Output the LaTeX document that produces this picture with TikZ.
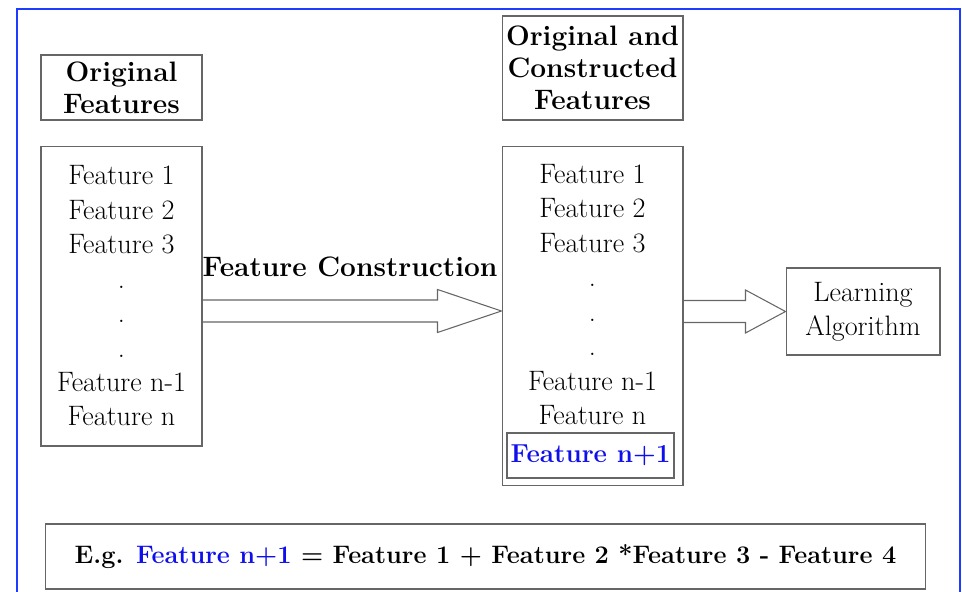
\documentclass[tikz,border=0pt]{standalone}
\usetikzlibrary{calc,positioning}

\definecolor{frameblue}{RGB}{30,60,255}
\definecolor{newblue}{RGB}{15,15,235}

\tikzset{
  box/.style={draw=black!60, line width=0.6pt, align=center, inner sep=0pt},
  headbox/.style={box, font=\fontsize{16}{18.2}\selectfont\bfseries},
  listbox/.style={box, font=\fontsize{16}{19.6}\selectfont},
  arrowline/.style={draw=black!60, line width=0.6pt},
}

% hollow block arrow: start, tip, head length
\newcommand{\hollowarrow}[3]{%
  \draw[arrowline] ($(#1)+(0,-11)$) -- ($(#2)+(-#3,-11)$) -- ($(#2)+(-#3,-21.5)$)
    -- (#2) -- ($(#2)+(-#3,21.5)$) -- ($(#2)+(-#3,11)$) -- ($(#1)+(0,11)$);}

\begin{document}
\begin{tikzpicture}[x=0.02cm, y=-0.02cm]
    \useasboundingbox (0,0) rectangle (962,591);
    \draw[frameblue, line width=1.6pt] (17,600) -- (17,9) -- (960,9) -- (960,600);

    \node[headbox, minimum width=3.22cm, minimum height=1.3cm] (origtitle) at (121.5,87.5) {Original\\Features};
    \node[listbox, minimum width=3.22cm, minimum height=6cm] (orig) at (121.5,296)
        {Feature 1\\Feature 2\\Feature 3\\.\\.\\.\\Feature n-1\\Feature n};

    \node[headbox, minimum width=3.62cm, minimum height=2.08cm] (midtitle) at (592.5,68) {Original and\\Constructed\\Features};
    \node[box, minimum width=3.62cm, minimum height=6.8cm] (mid) at (592.5,316) {};
    \node[listbox, draw=none] (midlist) at (592.5,294.5)
        {Feature 1\\Feature 2\\Feature 3\\.\\.\\.\\Feature n-1\\Feature n};
    \node[box, minimum width=3.34cm, minimum height=0.9cm, text=newblue,
          font=\fontsize{14.8}{18}\selectfont\bfseries] (newfeat) at (590.5,455.5) {Feature n+1};

    \node[listbox, minimum width=3.08cm, minimum height=1.74cm] (learn) at (863,311.5) {Learning\\Algorithm};

    \node[font=\fontsize{16}{19}\selectfont\bfseries] (fclabel) at (350,267) {Feature Construction};

    \coordinate (fcfrom) at (orig.east |- 0,311);
    \coordinate (fcto) at (mid.west |- 0,311);
    \hollowarrow{fcfrom}{fcto}{64}
    \coordinate (lafrom) at (mid.east |- 0,311.5);
    \coordinate (lato) at (learn.west |- 0,311.5);
    \hollowarrow{lafrom}{lato}{40}

    \node[box, minimum width=17.62cm, minimum height=1.3cm, font=\fontsize{14.4}{17}\selectfont\bfseries] (example) at (485.5,556.5)
        {E.g. \textcolor{newblue}{Feature n+1} = Feature 1 + Feature 2 *Feature 3 - Feature 4};
\end{tikzpicture}
\end{document}
